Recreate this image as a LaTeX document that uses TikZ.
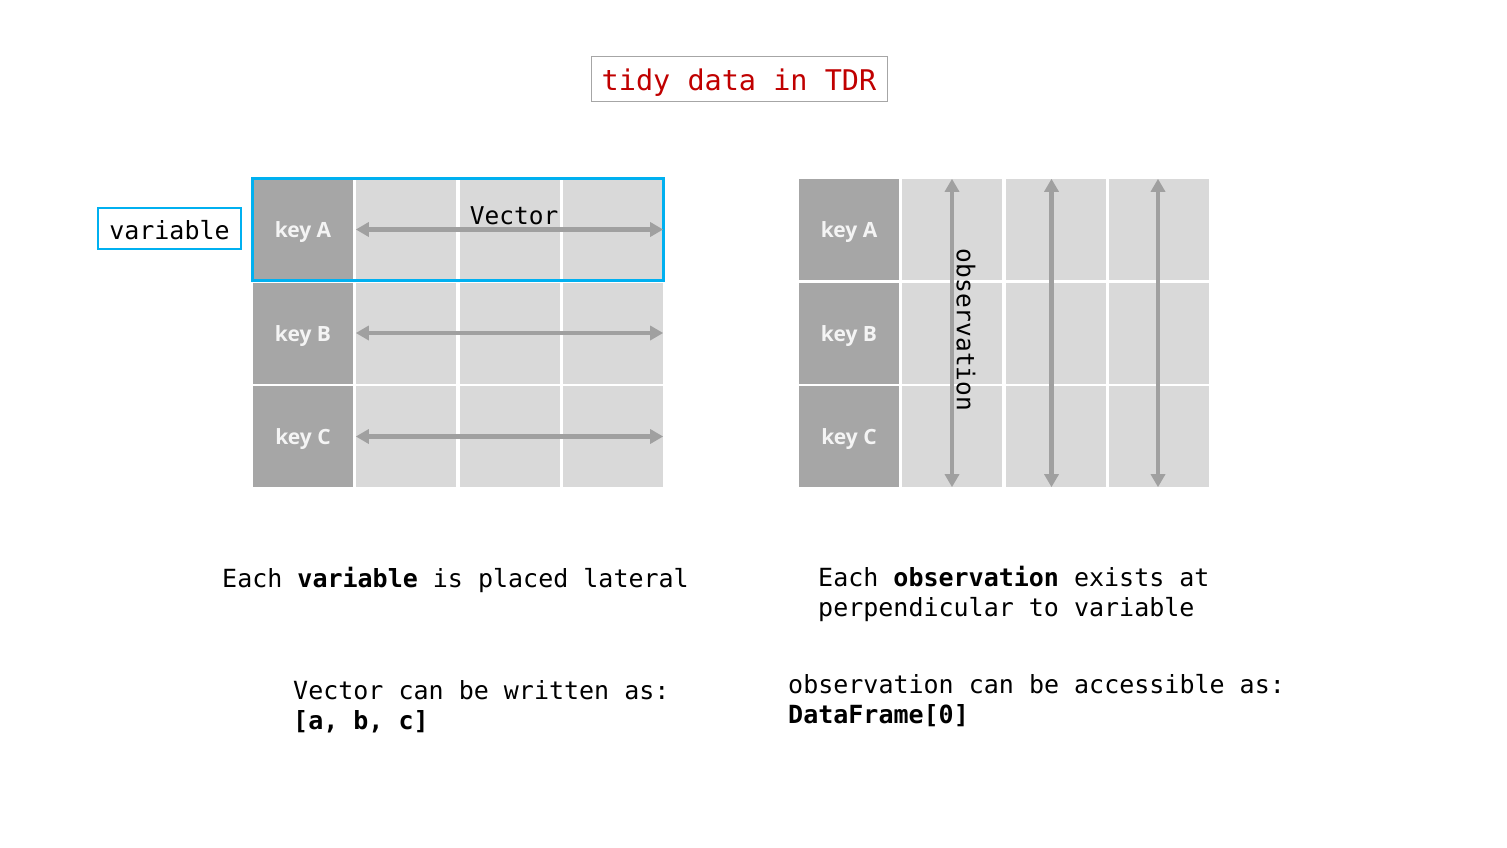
\documentclass[tikz,border=0pt]{standalone}
\usepackage{fontspec}
\setmonofont{DejaVu Sans Mono}
\newfontfamily\keyfont{Open Sans}
\usetikzlibrary{arrows.meta}
\definecolor{keygray}{HTML}{A6A6A6}
\definecolor{cellgray}{HTML}{D9D9D9}
\definecolor{arrowgray}{HTML}{A0A0A0}
\definecolor{cyanblue}{HTML}{00B0F0}
\definecolor{titlered}{HTML}{C00000}
\definecolor{keytext}{HTML}{F4F4F4}
\tikzset{
  keycell/.style={rectangle, fill=keygray, minimum width=100pt, minimum height=101pt, inner sep=0pt},
  keylabel/.style={text=keytext, font=\keyfont\bfseries\fontsize{21}{24}\selectfont, inner sep=0pt},
  datacell/.style={rectangle, fill=cellgray, minimum width=100pt, minimum height=101pt, inner sep=0pt},
  dblarrow/.style={draw=arrowgray, line width=4.3pt, {Triangle[length=13pt,width=14pt]}-{Triangle[length=13pt,width=14pt]}},
  monotext/.style={font=\ttfamily\fontsize{25}{30}\selectfont, inner sep=0pt, align=left},
  selbox/.style={draw=cyanblue, line width=3pt},
}
\begin{document}
\begin{tikzpicture}[x=1pt,y=-1pt]
\path[use as bounding box, fill=white] (0,0) rectangle (1507,848);
% title
\node[draw=keygray, line width=1pt, minimum width=296pt, minimum height=45pt, inner sep=0pt] (titlebox) at (739,79.5) {};
\node[text=titlered, font=\ttfamily\fontsize{28.5}{34}\selectfont, inner sep=0pt] (title) at ([yshift=-3pt]titlebox.center) {tidy data in TDR};
% variable label
\node[draw=cyanblue, line width=1.2pt, minimum width=143pt, minimum height=41pt, inner sep=0pt] (varbox) at (169.5,228.5) {};
\node[font=\ttfamily\fontsize{25}{30}\selectfont, inner sep=0pt] (varlabel) at ([yshift=-2pt]varbox.center) {variable};
% left grid
\foreach \r/\y/\k in {A/229.5/key A, B/333/key B, C/436.5/key C}{
  \node[keycell] (L\r0) at (303,\y) {};
  \node[keylabel] (L\r0t) at ([yshift=-3pt]L\r0.center) {\k};
  \node[datacell] (L\r1) at (406,\y) {};
  \node[datacell] (L\r2) at (509.5,\y) {};
  \node[datacell] (L\r3) at (613,\y) {};
}
% right grid
\foreach \r/\y/\k in {A/229.5/key A, B/333/key B, C/436.5/key C}{
  \node[keycell] (R\r0) at (849,\y) {};
  \node[keylabel] (R\r0t) at ([yshift=-3pt]R\r0.center) {\k};
  \node[datacell] (R\r1) at (952,\y) {};
  \node[datacell] (R\r2) at (1055.5,\y) {};
  \node[datacell] (R\r3) at (1159,\y) {};
}
% selection box
\draw[selbox] ([shift={(-0.5pt,0.5pt)}]LA0.north west) rectangle ([shift={(0.5pt,-0.5pt)}]LA3.south east);
% horizontal arrows
\foreach \r in {A,B,C}{
  \draw[dblarrow] (L\r1.west) -- (L\r3.east);
}
\node[font=\ttfamily\fontsize{24.5}{30}\selectfont, inner sep=0pt] (vector) at (514,216) {Vector};
% vertical arrows
\draw[dblarrow] (RA1.north) -- (RC1.south);
\draw[dblarrow] ([xshift=-4pt]RA2.north) -- ([xshift=-4pt]RC2.south);
\draw[dblarrow] ([xshift=-1pt]RA3.north) -- ([xshift=-1pt]RC3.south);
\node[font=\ttfamily\fontsize{24.5}{30}\selectfont, inner sep=0pt, rotate=-90] (obs) at (966,330) {observation};
% texts
\node[monotext, anchor=west] (t1) at (222,580) {Each \textbf{variable} is placed lateral};
\node[monotext, anchor=west] (t2) at (818,594) {Each \textbf{observation} exists at\\perpendicular to variable};
\node[monotext, anchor=west] (t3) at (293,707) {Vector can be written as:\\\textbf{[a, b, c]}};
\node[monotext, anchor=west] (t4) at (788,701) {observation can be accessible as:\\\textbf{DataFrame[0]}};
\end{tikzpicture}
\end{document}
